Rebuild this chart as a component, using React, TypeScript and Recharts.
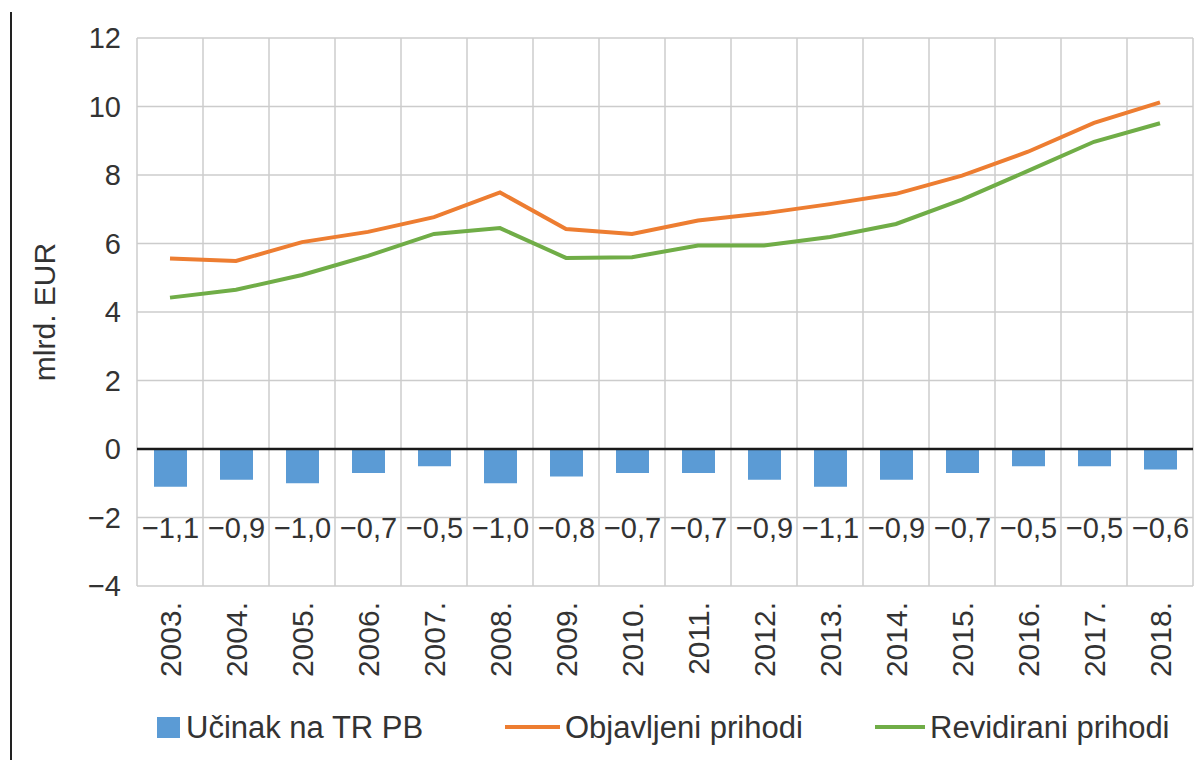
import {
  Bar,
  CartesianGrid,
  ComposedChart,
  LabelList,
  Line,
  ReferenceLine,
  XAxis,
  YAxis,
} from "recharts";

const years = [
  "2003.", "2004.", "2005.", "2006.", "2007.", "2008.", "2009.", "2010.",
  "2011.", "2012.", "2013.", "2014.", "2015.", "2016.", "2017.", "2018.",
];
const effect = [-1.1, -0.9, -1.0, -0.7, -0.5, -1.0, -0.8, -0.7, -0.7, -0.9, -1.1, -0.9, -0.7, -0.5, -0.5, -0.6];
const published = [5.56, 5.49, 6.04, 6.34, 6.77, 7.49, 6.42, 6.28, 6.67, 6.88, 7.15, 7.45, 7.98, 8.68, 9.52, 10.12];
const revised = [4.42, 4.65, 5.08, 5.64, 6.28, 6.45, 5.58, 5.6, 5.94, 5.94, 6.19, 6.57, 7.28, 8.12, 8.97, 9.51];
const yTicks = [-4, -2, 0, 2, 4, 6, 8, 10, 12];

const BLUE = "#5b9bd5";
const ORANGE = "#ed7d31";
const GREEN = "#70ad47";
const TEXT = "#333333";
const FONT = '"Liberation Sans", Arial, sans-serif';

const data = years.map((year, i) => ({
  year,
  effect: effect[i],
  published: published[i],
  revised: revised[i],
}));

const fmt = (v: number, digits = 0) => v.toFixed(digits).replace(".", ",").replace("-", "\u2212");

function YearTick(props: any) {
  const { x, y, payload } = props;
  return (
    <text
      x={x}
      y={y}
      dy="0.36em"
      transform={`rotate(-90, ${x}, ${y})`}
      textAnchor="end"
      fill={TEXT}
      fontSize={30}
    >
      {payload.value}
    </text>
  );
}

// value labels sit in the band between -2 and -4, scaled off the bar itself
function EffectLabel(props: any) {
  const x = Number(props.x);
  const y = Number(props.y);
  const width = Number(props.width);
  const height = Number(props.height);
  const value = Number(props.value);
  const zero = Math.min(y, y + height);
  const perUnit = Math.abs(height) / Math.abs(value);
  return (
    <text
      x={x + width / 2}
      y={zero + 2.3 * perUnit}
      dy="0.36em"
      textAnchor="middle"
      fill={TEXT}
      fontSize={29}
    >
      {fmt(value, 1)}
    </text>
  );
}

function AxisTitle(props: any) {
  const vb = props.viewBox || {};
  const cx = (vb.x ?? 0) + 44;
  const cy = (vb.y ?? 0) + (vb.height ?? 0) / 2;
  return (
    <text
      x={cx}
      y={cy}
      dy="0.36em"
      transform={`rotate(-90, ${cx}, ${cy})`}
      textAnchor="middle"
      fill={TEXT}
      fontSize={30}
    >
      mlrd. EUR
    </text>
  );
}

const legendText: React.CSSProperties = {
  position: "absolute",
  top: 727,
  transform: "translateY(-50%)",
  fontSize: 31,
  color: TEXT,
  whiteSpace: "nowrap",
  lineHeight: 1,
};

export default function App() {
  return (
    <div style={{ position: "absolute", left: 0, top: 0, width: 1202, height: 760, background: "#fff", fontFamily: FONT }}>
      <div style={{ position: "absolute", left: 10, top: 12, height: 748, borderLeft: "2px solid #222" }} />
      <ComposedChart
        width={1202}
        height={760}
        data={data}
        margin={{ top: 38, right: 9, left: 0, bottom: 74 }}
      >
        <CartesianGrid
          stroke="#cccccc"
          strokeWidth={1.5}
          verticalCoordinatesGenerator={(p: any) => {
            const o = p.offset;
            return Array.from({ length: years.length + 1 }, (_, i) => o.left + (i * o.width) / years.length);
          }}
        />
        <XAxis
          dataKey="year"
          interval={0}
          axisLine={false}
          tickLine={false}
          tickSize={0}
          tickMargin={16}
          height={100}
          tick={<YearTick />}
        />
        <YAxis
          domain={[-4, 12]}
          ticks={yTicks}
          interval={0}
          axisLine={false}
          tickLine={false}
          tickSize={0}
          tickMargin={16}
          width={137}
          tick={{ fontSize: 29, fill: TEXT }}
          tickFormatter={(v: number) => fmt(v)}
          label={<AxisTitle />}
        />
        <Bar dataKey="effect" fill={BLUE} barSize={33} isAnimationActive={false}>
          <LabelList dataKey="effect" content={<EffectLabel />} />
        </Bar>
        <ReferenceLine y={0} stroke="#1a1a1a" strokeWidth={2.5} />
        <Line
          type="linear"
          dataKey="published"
          stroke={ORANGE}
          strokeWidth={4}
          dot={false}
          isAnimationActive={false}
        />
        <Line
          type="linear"
          dataKey="revised"
          stroke={GREEN}
          strokeWidth={4}
          dot={false}
          isAnimationActive={false}
        />
      </ComposedChart>

      <div style={{ position: "absolute", left: 157, top: 717, width: 23, height: 21, background: BLUE }} />
      <div style={{ ...legendText, left: 186 }}>Učinak na TR PB</div>
      <div style={{ position: "absolute", left: 505, top: 725, width: 55, height: 4, background: ORANGE }} />
      <div style={{ ...legendText, left: 565 }}>Objavljeni prihodi</div>
      <div style={{ position: "absolute", left: 875, top: 725, width: 50, height: 4, background: GREEN }} />
      <div style={{ ...legendText, left: 930 }}>Revidirani prihodi</div>
    </div>
  );
}
